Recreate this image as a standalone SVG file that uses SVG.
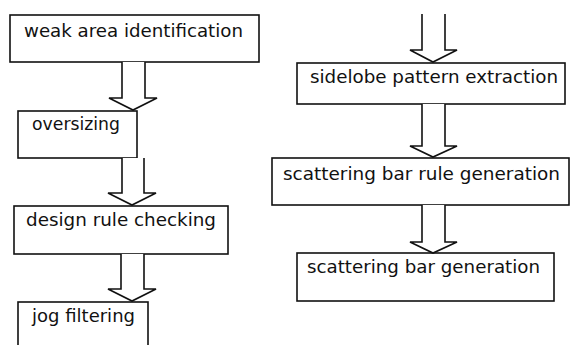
<svg xmlns="http://www.w3.org/2000/svg" width="571" height="345" viewBox="0 0 571 345">
<style>
.box{fill:#fff;stroke:#111;stroke-width:1.6}
.lbl{font-family:"DejaVu Sans","Verdana",sans-serif;font-size:18.3px;fill:#111}
.arr{fill:#fff;stroke:#111;stroke-width:1.6;stroke-linejoin:miter}
</style>
<rect width="571" height="345" fill="#fff"/>
<g id="n1"><rect class="box" x="10" y="15" width="249" height="47"/><text class="lbl" x="24" y="37" textLength="219" lengthAdjust="spacingAndGlyphs">weak area identification</text></g>
<g id="n2"><rect class="box" x="18" y="111" width="119" height="47"/><text class="lbl" x="32" y="130" textLength="88" lengthAdjust="spacingAndGlyphs">oversizing</text></g>
<g id="n3"><rect class="box" x="14" y="206" width="214" height="48"/><text class="lbl" x="26" y="226" textLength="190" lengthAdjust="spacingAndGlyphs">design rule checking</text></g>
<g id="n4"><rect class="box" x="18" y="302" width="130" height="60"/><text class="lbl" x="32" y="322" textLength="103" lengthAdjust="spacingAndGlyphs">jog filtering</text></g>
<g id="n5"><rect class="box" x="297" y="63" width="268" height="41"/><text class="lbl" x="310" y="83" textLength="248" lengthAdjust="spacingAndGlyphs">sidelobe pattern extraction</text></g>
<g id="n6"><rect class="box" x="272" y="158" width="297" height="47"/><text class="lbl" x="283" y="180" textLength="277" lengthAdjust="spacingAndGlyphs">scattering bar rule generation</text></g>
<g id="n7"><rect class="box" x="297" y="253" width="257" height="48"/><text class="lbl" x="307" y="273" textLength="233" lengthAdjust="spacingAndGlyphs">scattering bar generation</text></g>
<g id="connectors">
<polyline class="arr" points="122,62 122,98 109,98 133,110 157,98 145,98 145,62"/>
<polyline class="arr" points="122,158 122,193 108,193 132,205 156,193 144,193 144,158"/>
<polyline class="arr" points="121,254 121,289 108,289 132,301 156,289 144,289 144,254"/>
<polyline class="arr" points="422,14 422,50 410,50 433,62 457,50 445,50 445,14"/>
<polyline class="arr" points="422,104 422,146 410,146 433,157 457,146 445,146 445,104"/>
<polyline class="arr" points="422,205 422,242 410,242 433,253 457,242 445,242 445,205"/>
</g>
</svg>
